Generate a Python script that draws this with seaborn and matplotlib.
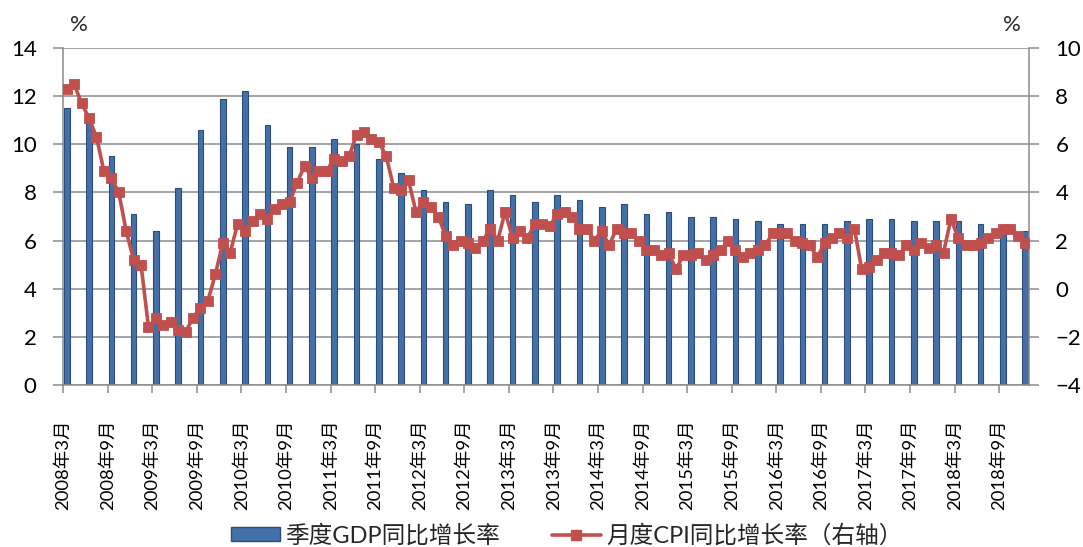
import numpy as np
import pandas as pd
import matplotlib
matplotlib.use("Agg")
import matplotlib.pyplot as plt
import seaborn as sns
from matplotlib.lines import Line2D
from matplotlib.patches import Patch

# ---------------- data ----------------
start_month = "2008-03"
end_month = "2018-12"

# monthly CPI year-on-year growth (%), right axis
cpi_yoy = [
    8.3, 8.5, 7.7, 7.1, 6.3, 4.9, 4.6, 4.0, 2.4, 1.2,
    1.0, -1.6, -1.2, -1.5, -1.4, -1.7, -1.8, -1.2, -0.8, -0.5, 0.6, 1.9,
    1.5, 2.7, 2.4, 2.8, 3.1, 2.9, 3.3, 3.5, 3.6, 4.4, 5.1, 4.6,
    4.9, 4.9, 5.4, 5.3, 5.5, 6.4, 6.5, 6.2, 6.1, 5.5, 4.2, 4.1,
    4.5, 3.2, 3.6, 3.4, 3.0, 2.2, 1.8, 2.0, 1.9, 1.7, 2.0, 2.5,
    2.0, 3.2, 2.1, 2.4, 2.1, 2.7, 2.7, 2.6, 3.1, 3.2, 3.0, 2.5,
    2.5, 2.0, 2.4, 1.8, 2.5, 2.3, 2.3, 2.0, 1.6, 1.6, 1.4, 1.5,
    0.8, 1.4, 1.4, 1.5, 1.2, 1.4, 1.6, 2.0, 1.6, 1.3, 1.5, 1.6,
    1.8, 2.3, 2.3, 2.3, 2.0, 1.9, 1.8, 1.3, 1.9, 2.1, 2.3, 2.1,
    2.5, 0.8, 0.9, 1.2, 1.5, 1.5, 1.4, 1.8, 1.6, 1.9, 1.7, 1.8,
    1.5, 2.9, 2.1, 1.8, 1.8, 1.9, 2.1, 2.3, 2.5, 2.5, 2.2, 1.9,
]

# quarterly GDP year-on-year growth (%), left axis (2008Q1 .. 2018Q4)
gdp_yoy = [
    11.5, 10.9, 9.5, 7.1,
    6.4, 8.2, 10.6, 11.9,
    12.2, 10.8, 9.9, 9.9,
    10.2, 10.0, 9.4, 8.8,
    8.1, 7.6, 7.5, 8.1,
    7.9, 7.6, 7.9, 7.7,
    7.4, 7.5, 7.1, 7.2,
    7.0, 7.0, 6.9, 6.8,
    6.7, 6.7, 6.7, 6.8,
    6.9, 6.9, 6.8, 6.8,
    6.8, 6.7, 6.5, 6.4,
]

gdp_label = "季度GDP同比增长率"
cpi_label = "月度CPI同比增长率（右轴）"
unit_label = "%"

# ---------------- derived positions ----------------
months = pd.period_range(start_month, end_month, freq="M")
month_idx = np.arange(len(months))
quarter_idx = month_idx[::3]
tick_idx = month_idx[::6]
tick_labels = [f"{p.year}年{p.month}月" for p in months[::6]]

# ---------------- style ----------------
sns.set_style("white")
plt.rcParams["font.family"] = ["Lato", "Noto Sans CJK SC", "DejaVu Sans"]

BAR_FACE = "#4470A8"
BAR_EDGE = "#2C4C7C"
LINE_RED = "#C0504D"
GRID = "#8C8C8C"

fig = plt.figure(figsize=(10.83, 5.47), dpi=100)
ax = fig.add_axes([0.0582, 0.2962, 0.8919, 0.616])

df_gdp = pd.DataFrame({"m": quarter_idx, "gdp": gdp_yoy})
sns.barplot(data=df_gdp, x="m", y="gdp", native_scale=True, width=0.25,
            color=BAR_FACE, edgecolor=BAR_EDGE, linewidth=0.8, saturation=1,
            errorbar=None, ax=ax, zorder=2)

ax2 = ax.twinx()
df_cpi = pd.DataFrame({"m": month_idx, "cpi": cpi_yoy})
sns.lineplot(data=df_cpi, x="m", y="cpi", ax=ax2, color=LINE_RED, lw=2.6,
             marker="s", markersize=6.5, markeredgecolor=LINE_RED,
             markeredgewidth=0.6, zorder=3)

# ---------------- axes ----------------
ax.set_xlim(-0.5, len(months) - 0.5)
ax.set_ylim(0, 14)
ax2.set_ylim(-4, 10)
ax.set_yticks(np.arange(0, 15, 2))
ax2.set_yticks(np.arange(-4, 11, 2))
ax.set_xticks(tick_idx - 0.5)
ax.set_xticklabels(tick_labels, rotation=90, fontsize=13.3)

ax.set_xlabel("")
ax.set_ylabel("")
ax2.set_xlabel("")
ax2.set_ylabel("")

ax.set_axisbelow(True)
ax.grid(axis="y", color=GRID, lw=1.1)
ax.grid(axis="x", visible=False)
ax2.grid(False)

for s in ["top", "right"]:
    ax.spines[s].set_visible(False)
for s in ["left", "bottom"]:
    ax.spines[s].set_color(GRID)
    ax.spines[s].set_linewidth(1.1)
for s in ["top", "left", "bottom"]:
    ax2.spines[s].set_visible(False)
ax2.spines["right"].set_color(GRID)
ax2.spines["right"].set_linewidth(1.1)

ax.tick_params(axis="y", left=True, direction="out", length=7, width=1.1,
               color=GRID, pad=12, labelsize=16, labelcolor="black")
ax.tick_params(axis="x", bottom=True, direction="out", length=6, width=1.1,
               color=GRID, pad=19, labelcolor="black")
ax2.tick_params(axis="y", right=True, direction="out", length=7, width=1.1,
                color=GRID, pad=12, labelsize=16, labelcolor="black")

# unit labels
fig.text(79 / 1083, 1 - 25 / 547, unit_label, ha="center", va="center", fontsize=16)
fig.text(1012 / 1083, 1 - 25 / 547, unit_label, ha="center", va="center", fontsize=16)

# legend
handles = [
    Patch(facecolor=BAR_FACE, edgecolor=BAR_EDGE, label=gdp_label),
    Line2D([], [], color=LINE_RED, lw=2.6, marker="s", markersize=6.5,
           markeredgecolor=LINE_RED, label=cpi_label),
]
fig.legend(handles=handles, loc="center", bbox_to_anchor=(0.523, 0.022),
           ncol=2, frameon=False, fontsize=17, handlelength=2.1,
           handleheight=0.55, handletextpad=0.2, columnspacing=2.2)

fig.savefig("out.png", dpi=100)
